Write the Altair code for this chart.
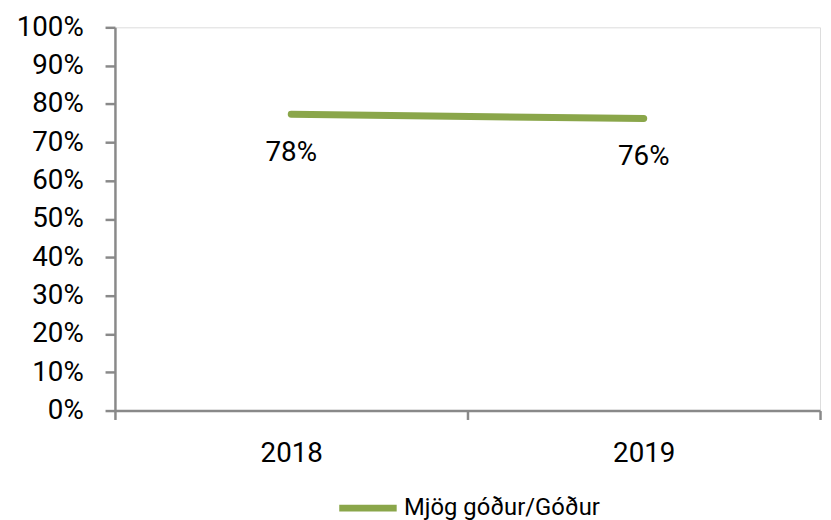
import altair as alt
import pandas as pd

years = ["2018", "2019"]
values = [0.773, 0.762]
labels = ["78%", "76%"]
series = "Mjög góður/Góður"
y_ticks = [0.0, 0.1, 0.2, 0.3, 0.4, 0.5, 0.6, 0.7, 0.8, 0.9, 1.0]

df = pd.DataFrame({"year": years, "value": values, "label": labels, "series": [series] * len(years)})

FONT = "Roboto"
GREEN = "#8aa64a"
AXIS = "#898989"

x_enc = alt.X("year:O", scale=alt.Scale(type="band", paddingInner=0, paddingOuter=0),
              bandPosition=0.5,
              axis=alt.Axis(title=None, labelAngle=0, tickBand="extent", labelPadding=20,
                            labelFontSize=28, labelFont=FONT, labelColor="#000000",
                            domainColor=AXIS, domainWidth=2.5, tickColor=AXIS, tickWidth=2.5,
                            tickSize=9, grid=False))

y_enc = alt.Y("value:Q", scale=alt.Scale(domain=[0, 1]),
              axis=alt.Axis(title=None, format=".0%", values=y_ticks,
                            labelOverlap=False,
                            labelFontSize=28, labelFont=FONT, labelColor="#000000", labelPadding=22,
                            domainColor=AXIS, domainWidth=2.5, tickColor=AXIS, tickWidth=2.5,
                            tickSize=10, grid=False))

base = alt.Chart(df)

line = base.mark_line(strokeWidth=7, strokeCap="round").encode(
    x=x_enc,
    y=y_enc,
    color=alt.Color("series:N", scale=alt.Scale(domain=[series], range=[GREEN]),
                    legend=alt.Legend(title=None, orient="none", legendX=223, legendY=453,
                                      symbolType="stroke", symbolSize=3364, symbolStrokeWidth=7,
                                      labelFont=FONT, labelFontSize=24, labelColor="#000000",
                                      labelOffset=4, labelLimit=500)),
)

text = base.mark_text(baseline="middle", align="center", dy=39, font=FONT, fontSize=28,
                      color="#000000").encode(
    x=x_enc,
    y=y_enc,
    text="label:N",
)

chart = alt.layer(line, text).properties(
    width=712, height=387,
    autosize=alt.AutoSizeParams(type="none"),
    padding={"left": 108, "top": 17, "right": 3, "bottom": 108},
).configure_view(stroke=None).configure(background="#ffffff")

chart.save("out.html", embed_options={"renderer": "svg", "actions": False})
